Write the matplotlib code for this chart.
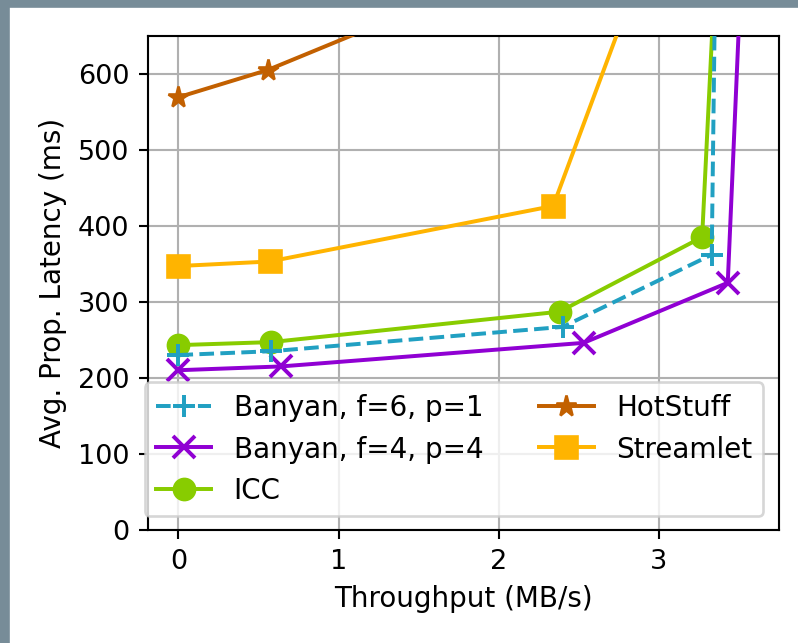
import numpy as np
import matplotlib
matplotlib.use('Agg')
import matplotlib.pyplot as plt
from matplotlib.patches import Rectangle

# throughput (MB/s) and latency (ms) per protocol
banyan6_x = [0.0, 0.58, 2.40, 3.33, 3.38]
banyan6_y = [230, 235, 267, 362, 1200]
banyan4_x = [0.0, 0.64, 2.53, 3.43, 3.61]
banyan4_y = [210, 215, 246, 325, 1200]
icc_x = [0.0, 0.58, 2.38, 3.27, 3.46]
icc_y = [243, 247, 287, 385, 1200]
hotstuff_x = [0.0, 0.56, 2.81]
hotstuff_y = [569, 605, 800]
streamlet_x = [0.0, 0.57, 2.34, 3.0]
streamlet_y = [347, 353, 426, 800]

DPI = 190
fig = plt.figure(figsize=(798 / DPI, 643.4 / DPI), dpi=DPI)
# grey frame at left and top edges
fig.patches.append(Rectangle((0, 0), 8 / 798, 1, transform=fig.transFigure,
                             color='#778c98', zorder=-1))
fig.patches.append(Rectangle((0, 1 - 6 / 643), 1, 6 / 643, transform=fig.transFigure,
                             color='#778c98', zorder=-1))

ax = fig.add_axes([148 / 798, 1 - 530 / 643, 631 / 798, 494 / 643])

ax.plot(banyan6_x, banyan6_y, '--', marker='+', color='#21a0c2', lw=1.5, ms=8,
        mew=1.5, label='Banyan, f=6, p=1', zorder=4)
ax.plot(banyan4_x, banyan4_y, '-', marker='x', color='#9000d3', lw=1.5, ms=8,
        mew=1.5, label='Banyan, f=4, p=4', zorder=3)
ax.plot(icc_x, icc_y, '-', marker='o', color='#88cc00', lw=1.5, ms=8,
        label='ICC', zorder=3)
ax.plot(hotstuff_x, hotstuff_y, '-', marker='*', color='#c26000', lw=1.5, ms=8,
        label='HotStuff', zorder=3)
ax.plot(streamlet_x, streamlet_y, '-', marker='s', color='#ffb400', lw=1.5, ms=8,
        label='Streamlet', zorder=3)

ax.set_xlim(-0.19, 3.75)
ax.set_ylim(0, 650)
ax.set_xticks([0, 1, 2, 3])
ax.set_yticks(range(0, 700, 100))
ax.tick_params(labelsize=10.3)
ax.grid(True)
ax.set_axisbelow(True)
ax.set_xlabel('Throughput (MB/s)', fontsize=10.5)
ax.set_ylabel('Avg. Prop. Latency (ms)', fontsize=10.5)

ax.legend(ncol=2, fontsize=10.5, loc='lower left', bbox_to_anchor=(-0.005, 0.028),
          borderaxespad=0)

fig.savefig('out.png', dpi=DPI)
